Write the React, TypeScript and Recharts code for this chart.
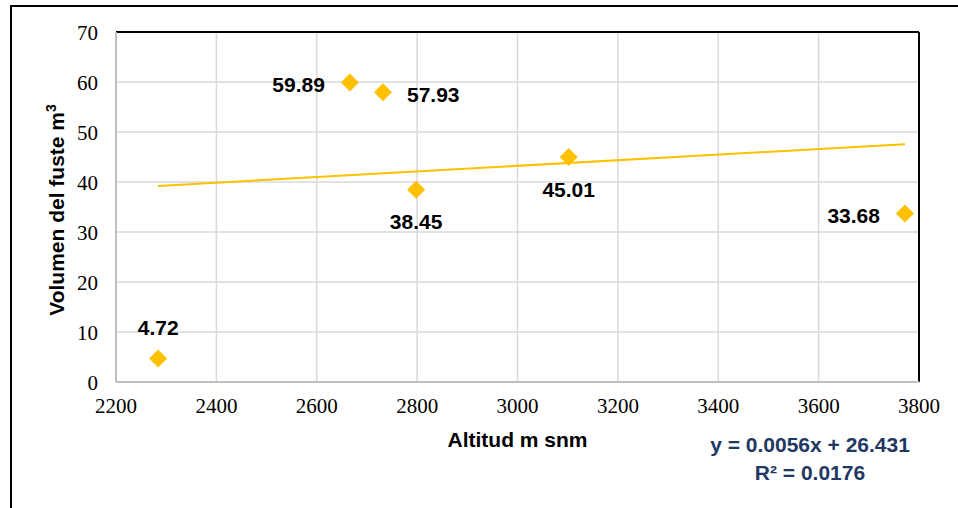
import React from 'react';
import {
  ScatterChart,
  Scatter,
  XAxis,
  YAxis,
  CartesianGrid,
  ReferenceLine,
} from 'recharts';

// altitude (m snm) and stem volume (m3) for each site
const altitud = [2284, 2666, 2732, 2798, 3102, 3772];
const volumen = [4.72, 59.89, 57.93, 38.45, 45.01, 33.68];
// where each data label sits relative to its marker
const labelPlacement = ['top', 'left', 'right', 'bottom', 'bottom', 'left'];

const xTicks = [2200, 2400, 2600, 2800, 3000, 3200, 3400, 3600, 3800];
const yTicks = [0, 10, 20, 30, 40, 50, 60, 70];

// linear trendline as printed on the chart
const slope = 0.0056;
const intercept = 26.431;
const r2 = 0.0176;

const GOLD = '#FFC000';
const SANS = 'Liberation Sans';
const SERIF = 'Liberation Serif';

const points = altitud.map((x, i) => ({ x, y: volumen[i], i }));

const xMin = Math.min(...altitud);
const xMax = Math.max(...altitud);
const trend = [
  { x: xMin, y: slope * xMin + intercept },
  { x: xMax, y: slope * xMax + intercept },
];

const boldText = { fontFamily: SANS, fontWeight: 'bold' as const, fontSize: 21 };
const tickText = { fontFamily: SERIF, fontSize: 21 };

const Diamond = (props: any) => {
  const { cx, cy, payload } = props;
  const r = 9;
  const place = labelPlacement[payload.i];
  let tx = cx;
  let ty = cy;
  let anchor: 'start' | 'middle' | 'end' = 'middle';
  if (place === 'top') {
    ty = cy - 31;
  } else if (place === 'bottom') {
    ty = cy + 32;
  } else if (place === 'left') {
    tx = cx - 25;
    ty = cy + 1.5;
    anchor = 'end';
  } else {
    tx = cx + 24;
    ty = cy + 2;
    anchor = 'start';
  }
  return (
    <g>
      <path
        d={`M${cx},${cy - r}L${cx + r},${cy}L${cx},${cy + r}L${cx - r},${cy}Z`}
        fill={GOLD}
      />
      <text x={tx} y={ty} dy="0.36em" textAnchor={anchor} style={boldText} fill="#000">
        {volumen[payload.i].toFixed(2)}
      </text>
    </g>
  );
};

const XTick = (p: any) => (
  <text x={p.x} y={p.y} dy="0.71em" textAnchor="middle" style={tickText} fill="#000">
    {p.payload.value}
  </text>
);

const YTick = (p: any) => (
  <text x={p.x} y={p.y} dy="0.36em" textAnchor="end" style={tickText} fill="#000">
    {p.payload.value}
  </text>
);

export default function App() {
  return (
    <div
      style={{
        position: 'fixed',
        left: 0,
        top: 0,
        width: 958,
        height: 508,
        overflow: 'hidden',
        background: '#fff',
      }}
    >
      <div
        style={{
          position: 'absolute',
          left: 10,
          top: 5,
          width: 980,
          height: 540,
          border: '2px solid #000',
          boxSizing: 'border-box',
        }}
      />
      <ScatterChart
        width={958}
        height={508}
        margin={{ top: 32, right: 39, left: 0, bottom: 0 }}
        style={{ position: 'absolute', left: 0, top: 0 }}
      >
        <CartesianGrid stroke="#D9D9D9" strokeWidth={1.5} />
        <XAxis
          type="number"
          dataKey="x"
          domain={[2200, 3800]}
          ticks={xTicks}
          height={126}
          tickLine={false}
          tickSize={0}
          tickMargin={16}
          axisLine={{ stroke: '#BFBFBF', strokeWidth: 2 }}
          tick={XTick}
          label={{
            content: (p: any) => (
              <text
                x={p.viewBox.x + p.viewBox.width / 2}
                y={447}
                textAnchor="middle"
                style={boldText}
                fill="#000"
              >
                Altitud m snm
              </text>
            ),
          }}
        />
        <YAxis
          type="number"
          dataKey="y"
          domain={[0, 70]}
          ticks={yTicks}
          width={116}
          tickLine={false}
          tickSize={0}
          tickMargin={18}
          axisLine={{ stroke: '#BFBFBF', strokeWidth: 2 }}
          tick={YTick}
          label={{
            content: () => (
              <text
                x={56}
                y={210}
                dy="0.36em"
                transform="rotate(-90 56 210)"
                textAnchor="middle"
                style={boldText}
                fill="#000"
              >
                Volumen del fuste m
                <tspan style={{ fontSize: 14 }} dy={-8}>
                  3
                </tspan>
              </text>
            ),
          }}
        />
        <ReferenceLine y={70} stroke="#000" strokeWidth={2} />
        <ReferenceLine x={3800} stroke="#000" strokeWidth={2} />
        <Scatter
          data={trend}
          line={{ stroke: GOLD, strokeWidth: 2 }}
          shape={() => <g />}
          isAnimationActive={false}
        />
        <Scatter data={points} shape={Diamond} isAnimationActive={false} />
      </ScatterChart>
      <div
        style={{
          position: 'absolute',
          left: 660,
          top: 431,
          width: 300,
          textAlign: 'center',
          fontFamily: SANS,
          fontWeight: 'bold',
          fontSize: 21,
          lineHeight: '28px',
          color: '#1F3864',
        }}
      >
        <div>y = {slope}x + {intercept}</div>
        <div>R² = {r2}</div>
      </div>
    </div>
  );
}
